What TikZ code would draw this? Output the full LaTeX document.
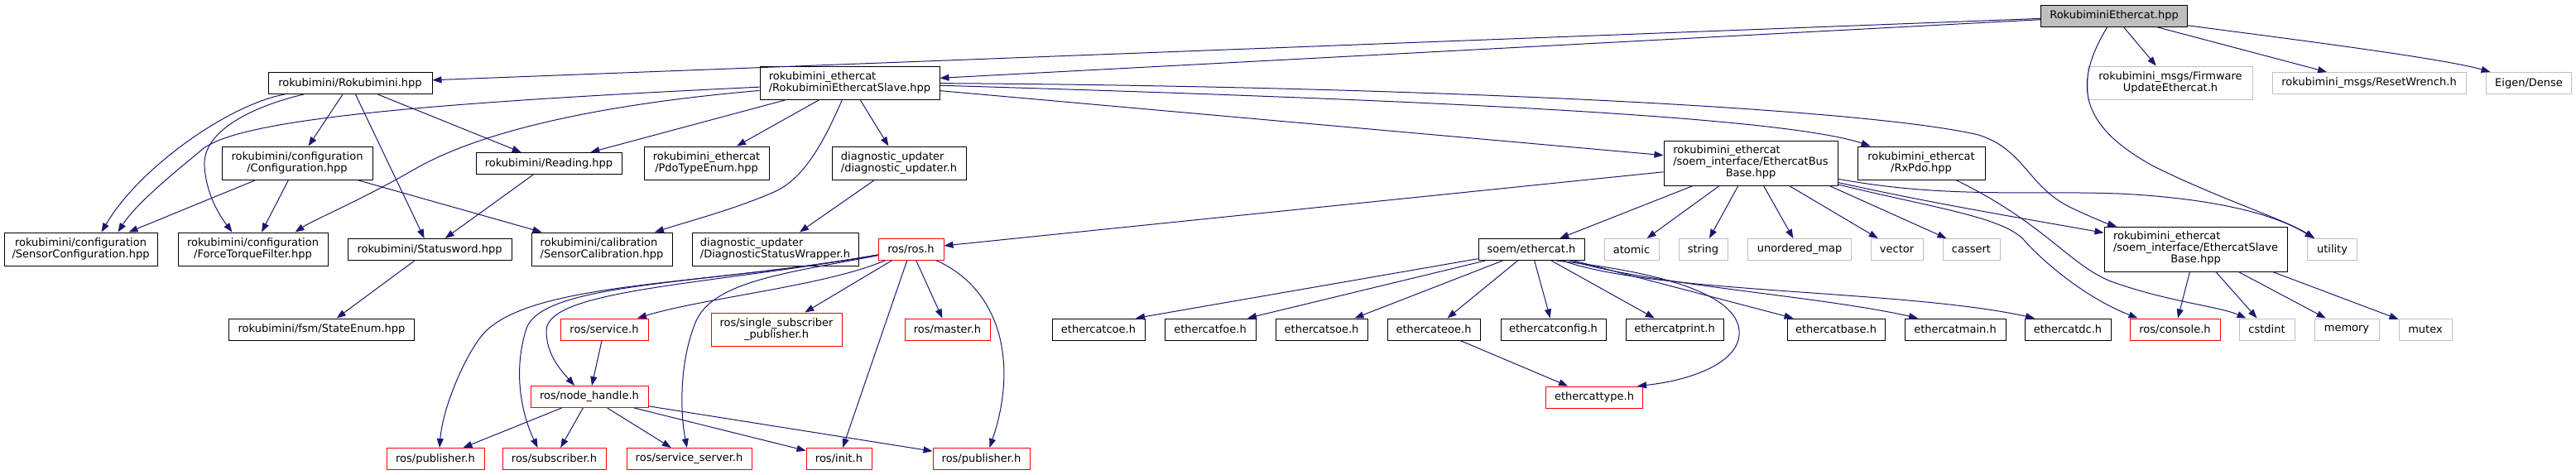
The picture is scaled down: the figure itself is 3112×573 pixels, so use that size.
\documentclass[tikz,border=0pt]{standalone}
\usepackage{fontspec}
\setmainfont{DejaVu Sans}
\usetikzlibrary{arrows.meta}
\definecolor{edgeblue}{HTML}{191970}
\definecolor{grey75}{HTML}{BFBFBF}

\begin{document}
\begin{tikzpicture}[x=1pt,y=-1pt,
	hdr/.style={draw=black,fill=white,line width=1pt,inner sep=0pt,minimum height=26pt,font=\fontsize{13pt}{14pt}\selectfont},
	sys/.style={hdr,draw=grey75},
	roshdr/.style={hdr,draw=red},
	rootfile/.style={hdr,fill=grey75},
	incl/.style={draw=edgeblue,line width=1pt,-{Triangle[length=11pt,width=8pt]}}]
		\useasboundingbox (0,0) rectangle (3112,573);
		
		\node[rootfile,minimum width=177pt] (top) at (2554,19) {RokubiminiEthercat.hpp};
		
		\node[hdr,minimum width=198pt] (rokubimini) at (423,100.5) {rokubimini/Rokubimini.hpp};
		\node[hdr,minimum width=217pt,minimum height=40pt,align=left] (slave) at (1026.5,100) {rokubimini\_ethercat\\/RokubiminiEthercatSlave.hpp};
		\node[sys,minimum width=199pt,minimum height=40pt,align=center] (fwupdate) at (2622,100) {rokubimini\_msgs/Firmware\\UpdateEthercat.h};
		\node[sys,minimum width=234pt] (reset) at (2862,100.5) {rokubimini\_msgs/ResetWrench.h};
		\node[sys,minimum width=103pt] (eigen) at (3055,100.5) {Eigen/Dense};
		
		\node[hdr,minimum width=182pt,minimum height=40pt,align=center] (config) at (359,197) {rokubimini/configuration\\/Configuration.hpp};
		\node[hdr,minimum width=176pt] (reading) at (663,197.5) {rokubimini/Reading.hpp};
		\node[hdr,minimum width=151pt,minimum height=40pt,align=center] (pdotype) at (853.5,197) {rokubimini\_ethercat\\/PdoTypeEnum.hpp};
		\node[hdr,minimum width=162pt,minimum height=40pt,align=left] (diagupd) at (1086,197) {diagnostic\_updater\\/diagnostic\_updater.h};
		\node[hdr,minimum width=210pt,minimum height=54pt] (busbase) at (2115,197) {\begin{tabular}{@{}l@{}}rokubimini\_ethercat\\/soem\_interface/EthercatBus\\\multicolumn{1}{@{}c@{}}{Base.hpp}\end{tabular}};
		\node[hdr,minimum width=154pt,minimum height=40pt,align=center] (rxpdo) at (2321,197) {rokubimini\_ethercat\\/RxPdo.hpp};
		
		\node[hdr,minimum width=185pt,minimum height=40pt,align=center] (sensconf) at (97.5,301) {rokubimini/configuration\\/SensorConfiguration.hpp};
		\node[hdr,minimum width=181pt,minimum height=40pt,align=center] (ftfilter) at (305.5,301) {rokubimini/configuration\\/ForceTorqueFilter.hpp};
		\node[hdr,minimum width=198pt] (statusword) at (519,301.5) {rokubimini/Statusword.hpp};
		\node[hdr,minimum width=170pt,minimum height=40pt,align=left] (senscal) at (727,301) {rokubimini/calibration\\/SensorCalibration.hpp};
		\node[hdr,minimum width=201pt,minimum height=40pt,align=left] (diagwrap) at (936.5,301) {diagnostic\_updater\\/DiagnosticStatusWrapper.h};
		\node[roshdr,minimum width=79pt] (rosros) at (1100.5,301) {ros/ros.h};
		\node[hdr,minimum width=128pt] (soem) at (1850,301.5) {soem/ethercat.h};
		\node[sys,minimum width=66pt] (atomic) at (1971,301.5) {atomic};
		\node[sys,minimum width=59pt] (string) at (2057.5,301.5) {string};
		\node[sys,minimum width=125pt] (umap) at (2174,301.5) {unordered\_map};
		\node[sys,minimum width=63pt] (vector) at (2291.5,301.5) {vector};
		\node[sys,minimum width=69pt] (cassert) at (2381.5,301.5) {cassert};
		\node[hdr,minimum width=221pt,minimum height=54pt] (slavebase) at (2652.5,301) {\begin{tabular}{@{}l@{}}rokubimini\_ethercat\\/soem\_interface/EthercatSlave\\\multicolumn{1}{@{}c@{}}{Base.hpp}\end{tabular}};
		\node[sys,minimum width=60pt] (utility) at (2817.5,301.5) {utility};
		
		\node[hdr,minimum width=224pt] (stateenum) at (388.5,398) {rokubimini/fsm/StateEnum.hpp};
		\node[roshdr,minimum width=106pt] (rosservice) at (730,398) {ros/service.h};
		\node[roshdr,minimum width=158pt,minimum height=40pt,align=center] (singlesub) at (938,398) {ros/single\_subscriber\\\_publisher.h};
		\node[roshdr,minimum width=103pt] (rosmaster) at (1144.5,398) {ros/master.h};
		\node[hdr,minimum width=112pt] (coe) at (1327,398) {ethercatcoe.h};
		\node[hdr,minimum width=110pt] (foe) at (1462,398) {ethercatfoe.h};
		\node[hdr,minimum width=111pt] (soe) at (1596.5,398) {ethercatsoe.h};
		\node[hdr,minimum width=112pt] (eoe) at (1732,398) {ethercateoe.h};
		\node[hdr,minimum width=127pt] (ecconfig) at (1876.5,398) {ethercatconfig.h};
		\node[hdr,minimum width=118pt] (ecprint) at (2023,398) {ethercatprint.h};
		\node[hdr,minimum width=118pt] (ecbase) at (2218,398) {ethercatbase.h};
		\node[hdr,minimum width=122pt] (ecmain) at (2362,398) {ethercatmain.h};
		\node[hdr,minimum width=104pt] (ecdc) at (2498,398) {ethercatdc.h};
		\node[roshdr,minimum width=109pt] (rosconsole) at (2627.5,398) {ros/console.h};
		\node[sys,minimum width=67pt] (cstdint) at (2738.5,398) {cstdint};
		\node[sys,minimum width=78pt] (memory) at (2835,398) {memory};
		\node[sys,minimum width=64pt] (mutex) at (2930,398) {mutex};
		
		\node[roshdr,minimum width=142pt] (nodehandle) at (712,479.5) {ros/node\_handle.h};
		\node[roshdr,minimum width=117pt] (ectype) at (1926,480) {ethercattype.h};
		
		\node[roshdr,minimum width=118pt] (pubA) at (526,554.5) {ros/publisher.h};
		\node[roshdr,minimum width=125pt] (subscriber) at (669.5,554.5) {ros/subscriber.h};
		\node[roshdr,minimum width=151pt] (servsrv) at (832.5,554.5) {ros/service\_server.h};
		\node[roshdr,minimum width=79pt] (rosinit) at (1013.5,554.5) {ros/init.h};
		\node[roshdr,minimum width=117pt] (pubB) at (1185.5,554.5) {ros/publisher.h};
		
		\draw[incl] (top) -- (rokubimini);
		\draw[incl] (top) -- (slave);
		\draw[incl] (top) -- (fwupdate);
		\draw[incl] (top) -- (reset);
		\draw[incl] (top) .. controls (2750,45) and (2950,70) .. (eigen);
		\draw[incl] (top) .. controls (2505,100) and (2510,150) .. (2600,200) .. controls (2680,240) and (2760,265) .. (utility);
		
		\draw[incl] (rokubimini) .. controls (280,125) and (170,200) .. ([xshift=25pt]sensconf.north);
		\draw[incl] (rokubimini) .. controls (300,130) and (245,160) .. (247,200) .. controls (249,235) and (265,260) .. ([xshift=-25pt]ftfilter.north);
		\draw[incl] (rokubimini) -- (config);
		\draw[incl] (rokubimini) -- (statusword);
		\draw[incl] (rokubimini) -- (reading);
		
		\draw[incl] (slave) .. controls (500,125) and (290,145) .. (245,180) .. controls (215,205) and (165,245) .. ([xshift=45pt]sensconf.north);
		\draw[incl] (slave) .. controls (680,130) and (560,170) .. (500,205) .. controls (430,245) and (380,265) .. ([xshift=51pt]ftfilter.north);
		\draw[incl] (slave) -- (reading);
		\draw[incl] (slave) -- (pdotype);
		\draw[incl] (slave) .. controls (1000,160) and (975,215) .. (935,232) .. controls (890,252) and (830,268) .. (senscal);
		\draw[incl] (slave) -- (diagupd);
		\draw[incl] (slave) -- (busbase);
		\draw[incl] (slave) .. controls (1700,120) and (2150,140) .. (rxpdo);
		\draw[incl] (slave) .. controls (1700,104) and (2250,130) .. (2390,163) .. controls (2445,180) and (2450,225) .. (2500,250) .. controls (2525,262) and (2545,270) .. (slavebase);
		
		\draw[incl] (config) -- ([xshift=58pt]sensconf.north);
		\draw[incl] (config) -- (ftfilter);
		\draw[incl] (config) -- (senscal);
		\draw[incl] (reading) -- (statusword);
		\draw[incl] (statusword) -- (stateenum);
		\draw[incl] (diagupd) -- (diagwrap);
		
		\draw[incl] (busbase) -- (rosros);
		\draw[incl] (busbase) -- (soem);
		\draw[incl] (busbase) -- (atomic);
		\draw[incl] (busbase) -- (string);
		\draw[incl] (busbase) -- (umap);
		\draw[incl] (busbase) -- (vector);
		\draw[incl] ([xshift=95pt]busbase.south) -- (cassert);
		\draw[incl] (busbase) .. controls (2350,240) and (2450,230) .. (2560,234) .. controls (2680,240) and (2750,260) .. (utility);
		\draw[incl] (busbase) .. controls (2330,245) and (2450,265) .. (slavebase);
		\draw[incl] (busbase) .. controls (2330,250) and (2420,262) .. (2445,290) .. controls (2470,318) and (2520,360) .. ([xshift=-45pt]rosconsole.north);
		\draw[incl] (rxpdo) .. controls (2470,270) and (2500,320) .. (2550,340) .. controls (2620,365) and (2680,370) .. ([xshift=-25pt]cstdint.north);
		
		\draw[incl] (slavebase) -- (rosconsole);
		\draw[incl] (slavebase) -- (cstdint);
		\draw[incl] (slavebase) -- (memory);
		\draw[incl] ([xshift=93pt]slavebase.south) -- (mutex);
		
		\draw[incl] (soem) -- ([xshift=45pt]coe.north);
		\draw[incl] (soem) -- ([xshift=45pt]foe.north);
		\draw[incl] (soem) -- ([xshift=40pt]soe.north);
		\draw[incl] (soem) -- (eoe);
		\draw[incl] (soem) -- (ecconfig);
		\draw[incl] (soem) -- (ecprint);
		\draw[incl] (soem) -- (ecbase);
		\draw[incl] (soem) .. controls (2000,345) and (2200,358) .. ([xshift=-45pt]ecmain.north);
		\draw[incl] (soem) .. controls (2000,355) and (2300,350) .. ([xshift=-40pt]ecdc.north);
		\draw[incl] ([xshift=30pt]soem.south) .. controls (2020,330) and (2105,360) .. (2101,405) .. controls (2098,440) and (2040,460) .. ([xshift=52pt]ectype.north);
		\draw[incl] (eoe) -- (ectype);
		
		\draw[incl] (rosros) -- (singlesub);
		\draw[incl] (rosros) -- (rosinit);
		\draw[incl] (rosros) -- (rosmaster);
		\draw[incl] (rosros) .. controls (1210,350) and (1230,440) .. ([xshift=10pt]pubB.north);
		\draw[incl] (rosros) .. controls (1000,345) and (850,360) .. ([xshift=40pt]rosservice.north);
		\draw[incl] (rosros) .. controls (950,330) and (860,340) .. (840,390) .. controls (820,440) and (822,500) .. (servsrv);
		\draw[incl] (rosros) .. controls (850,345) and (660,350) .. (660,400) .. controls (660,430) and (680,450) .. ([xshift=-18pt]nodehandle.north);
		\draw[incl] (rosros) .. controls (850,345) and (650,340) .. (635,400) .. controls (620,450) and (630,500) .. ([xshift=-20pt]subscriber.north);
		\draw[incl] (rosros) .. controls (850,345) and (650,340) .. (587,400) .. controls (565,422) and (535,490) .. ([xshift=5pt]pubA.north);
		
		\draw[incl] (rosservice) -- (nodehandle);
		\draw[incl] (nodehandle) -- (pubA);
		\draw[incl] (nodehandle) -- (subscriber);
		\draw[incl] (nodehandle) -- (servsrv);
		\draw[incl] (nodehandle) -- (rosinit);
		\draw[incl] (nodehandle) -- (pubB);
	\end{tikzpicture}
\end{document}
